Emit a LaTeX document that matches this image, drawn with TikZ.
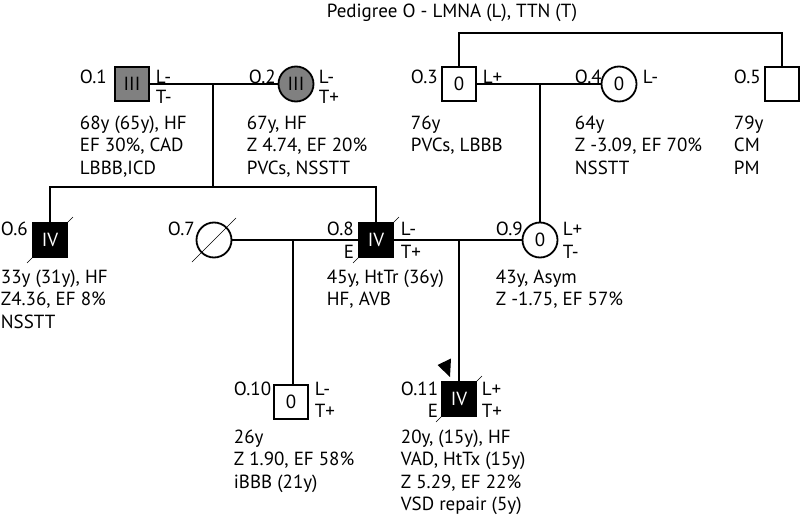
\documentclass[tikz,border=0pt]{standalone}
\usepackage{fontspec}
\setmainfont{PT Sans}
\usetikzlibrary{backgrounds}
\definecolor{affgray}{RGB}{128,128,128}
\begin{document}
\begin{tikzpicture}[x=1pt,y=-1pt,line width=1.8pt,
  txt/.style={anchor=base west,inner sep=0pt,font=\fontsize{19}{19}\selectfont},
  male/.style={draw,rectangle,minimum size=34pt,inner sep=0pt,line width=1.8pt,font=\fontsize{19}{19}\selectfont},
  female/.style={draw,circle,minimum size=35pt,inner sep=0pt,line width=1.8pt,font=\fontsize{19}{19}\selectfont},
  affected/.style={fill=black,text=white},
  partial/.style={fill=affgray,text=black}]
\useasboundingbox (0,0) rectangle (800,519);

% title
\node[txt,anchor=base] (title) at (452,18) {Pedigree O - LMNA (L), TTN (T)};

% generation I
\node[male,partial] (o1) at (132,84) {III};
\node[female,partial] (o2) at (296,84) {III};
\node[male] (o3) at (459,84) {0};
\node[female] (o4) at (619,84) {0};
\node[male] (o5) at (782,84) {};

% generation II
\node[male,affected] (o6) at (50,240) {IV};
\node[female] (o7) at (214,240) {};
\node[male,affected] (o8) at (376,240) {IV};
\node[female] (o9) at (540,240) {0};

% generation III
\node[male] (o10) at (291,402) {0};
\node[male,affected] (o11) at (459,399) {IV};

% deceased slashes (behind the symbols)
\begin{scope}[on background layer]
\draw ([shift={(-5,5)}]o6.south west) -- ([shift={(5,-5)}]o6.north east);
\draw ([shift={(-22,22)}]o7.center) -- ([shift={(22,-22)}]o7.center);
\draw ([shift={(-5,5)}]o8.south west) -- ([shift={(5,-5)}]o8.north east);
\draw ([shift={(-5,5)}]o11.south west) -- ([shift={(5,-5)}]o11.north east);
\end{scope}

% connectors
\coordinate (s1) at (213,187);
\coordinate (top) at (0,33);
\coordinate (d78) at (293,240);
\draw (o1.east) -- (o2.west);
\draw (s1 |- o1.east) -- (s1);
\draw (o6.north) -- (o6.north |- s1) -- (o8.north |- s1) -- (o8.north);
\draw (o3.north) -- (o3.north |- top) -- (o5.north |- top) -- (o5.north);
\draw (o3.east) -- (o4.west);
\draw (o9.north |- o3.east) -- (o9.north);
\draw (o7.east) -- (o8.west);
\draw (o8.east) -- (o9.west);
\draw (d78) -- (d78 |- o10.north);
\draw (o11.north |- o8.east) -- (o11.north);

% proband arrow
\fill (437.5,365) -- (451,358.5) -- (450,377) -- cycle;

% labels O.1
\node[txt] (n1) at (79,83) {O.1};
\node[txt] (l1) at (155,83) {L-};
\node[txt] (t1) at (155,103) {T-};
\node[txt] (a1) at (79,129) {68y (65y), HF};
\node[txt] (b1) at (79,151.5) {EF 30\%, CAD};
\node[txt] (c1) at (79,174) {LBBB,ICD};
% O.2
\node[txt] (n2) at (248,83) {O.2};
\node[txt] (l2) at (318,83) {L-};
\node[txt] (t2) at (318,103) {T+};
\node[txt] (a2) at (246,129) {67y, HF};
\node[txt] (b2) at (246,151.5) {Z 4.74, EF 20\%};
\node[txt] (c2) at (246,174) {PVCs, NSSTT};
% O.3
\node[txt] (n3) at (410,83) {O.3};
\node[txt] (l3) at (482,83) {L+};
\node[txt] (a3) at (410,129) {76y};
\node[txt] (b3) at (410,151.5) {PVCs, LBBB};
% O.4
\node[txt] (n4) at (574,83) {O.4};
\node[txt] (l4) at (642,83) {L-};
\node[txt] (a4) at (574,129) {64y};
\node[txt] (b4) at (574,151.5) {Z -3.09, EF 70\%};
\node[txt] (c4) at (574,174) {NSSTT};
% O.5
\node[txt] (n5) at (733,83) {O.5};
\node[txt] (a5) at (733,129) {79y};
\node[txt] (b5) at (733,151.5) {CM};
\node[txt] (c5) at (733,174) {PM};
% O.6
\node[txt] (n6) at (0,235) {O.6};
\node[txt] (a6) at (0,283) {33y (31y), HF};
\node[txt] (b6) at (0,305.5) {Z4.36, EF 8\%};
\node[txt] (c6) at (0,328) {NSSTT};
% O.7
\node[txt] (n7) at (167,235) {O.7};
% O.8
\node[txt] (n8) at (326,235) {O.8};
\node[txt] (e8) at (343,258) {E};
\node[txt] (l8) at (400,235) {L-};
\node[txt] (t8) at (400,258) {T+};
\node[txt] (a8) at (326,283) {45y, HtTr (36y)};
\node[txt] (b8) at (326,305.5) {HF, AVB};
% O.9
\node[txt] (n9) at (495,235) {O.9};
\node[txt] (l9) at (562,235) {L+};
\node[txt] (t9) at (562,258) {T-};
\node[txt] (a9) at (495,283) {43y, Asym};
\node[txt] (b9) at (495,305.5) {Z -1.75, EF 57\%};
% O.10
\node[txt] (n10) at (233,395) {O.10};
\node[txt] (l10) at (314,395) {L-};
\node[txt] (t10) at (314,417) {T+};
\node[txt] (a10) at (233,443) {26y};
\node[txt] (b10) at (233,465.5) {Z 1.90, EF 58\%};
\node[txt] (c10) at (233,488) {iBBB (21y)};
% O.11
\node[txt] (n11) at (400,395) {O.11};
\node[txt] (e11) at (427,417) {E};
\node[txt] (l11) at (481,395) {L+};
\node[txt] (t11) at (481,417) {T+};
\node[txt] (a11) at (400,443) {20y, (15y), HF};
\node[txt] (b11) at (400,465.5) {VAD, HtTx (15y)};
\node[txt] (c11) at (400,488) {Z 5.29, EF 22\%};
\node[txt] (d11) at (400,510.5) {VSD repair (5y)};
\end{tikzpicture}
\end{document}
